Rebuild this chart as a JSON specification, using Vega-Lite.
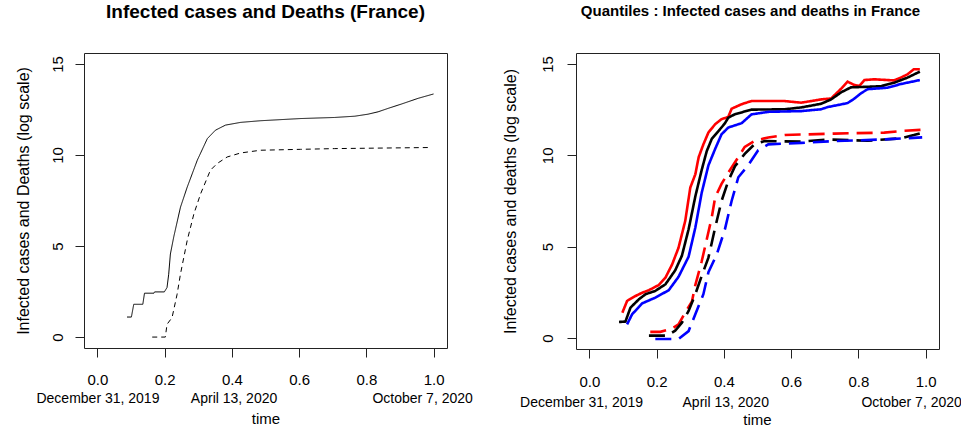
{
  "$schema": "https://vega.github.io/schema/vega-lite/v6.json",
  "background": "white",
  "padding": {"left": 14, "top": 2, "right": 0, "bottom": 0},
  "spacing": 28,
  "resolve": {"scale": {"strokeDash": "independent", "color": "independent"}},
  "config": {
    "font": "Liberation Sans",
    "view": {"stroke": "#222222", "strokeWidth": 1},
    "axis": {"grid": false, "labelColor": "black", "titleColor": "black", "tickColor": "#222222", "labelFont": "Liberation Sans", "titleFont": "Liberation Sans", "titleFontWeight": "normal"},
    "title": {"font": "Liberation Sans", "color": "black", "fontWeight": "bold", "anchor": "middle"}
  },
  "datasets": {
    "left": [
      {"t": 0.088, "v": 1.10, "series": "cases"},
      {"t": 0.101, "v": 1.10, "series": "cases"},
      {"t": 0.108, "v": 1.80, "series": "cases"},
      {"t": 0.135, "v": 1.80, "series": "cases"},
      {"t": 0.140, "v": 2.41, "series": "cases"},
      {"t": 0.168, "v": 2.41, "series": "cases"},
      {"t": 0.170, "v": 2.48, "series": "cases"},
      {"t": 0.199, "v": 2.48, "series": "cases"},
      {"t": 0.207, "v": 2.72, "series": "cases"},
      {"t": 0.212, "v": 3.45, "series": "cases"},
      {"t": 0.217, "v": 4.56, "series": "cases"},
      {"t": 0.227, "v": 5.50, "series": "cases"},
      {"t": 0.247, "v": 7.13, "series": "cases"},
      {"t": 0.267, "v": 8.23, "series": "cases"},
      {"t": 0.297, "v": 9.71, "series": "cases"},
      {"t": 0.327, "v": 10.90, "series": "cases"},
      {"t": 0.351, "v": 11.36, "series": "cases"},
      {"t": 0.381, "v": 11.64, "series": "cases"},
      {"t": 0.426, "v": 11.79, "series": "cases"},
      {"t": 0.485, "v": 11.88, "series": "cases"},
      {"t": 0.604, "v": 12.00, "series": "cases"},
      {"t": 0.706, "v": 12.06, "series": "cases"},
      {"t": 0.766, "v": 12.13, "series": "cases"},
      {"t": 0.805, "v": 12.24, "series": "cases"},
      {"t": 0.835, "v": 12.37, "series": "cases"},
      {"t": 0.865, "v": 12.56, "series": "cases"},
      {"t": 0.905, "v": 12.80, "series": "cases"},
      {"t": 0.954, "v": 13.11, "series": "cases"},
      {"t": 1.000, "v": 13.35, "series": "cases"},
      {"t": 0.163, "v": 0.00, "series": "deaths"},
      {"t": 0.202, "v": 0.00, "series": "deaths"},
      {"t": 0.207, "v": 0.70, "series": "deaths"},
      {"t": 0.222, "v": 1.07, "series": "deaths"},
      {"t": 0.237, "v": 2.35, "series": "deaths"},
      {"t": 0.247, "v": 3.46, "series": "deaths"},
      {"t": 0.267, "v": 5.30, "series": "deaths"},
      {"t": 0.287, "v": 6.77, "series": "deaths"},
      {"t": 0.307, "v": 7.87, "series": "deaths"},
      {"t": 0.336, "v": 9.16, "series": "deaths"},
      {"t": 0.356, "v": 9.53, "series": "deaths"},
      {"t": 0.386, "v": 9.89, "series": "deaths"},
      {"t": 0.426, "v": 10.11, "series": "deaths"},
      {"t": 0.485, "v": 10.26, "series": "deaths"},
      {"t": 0.604, "v": 10.31, "series": "deaths"},
      {"t": 0.706, "v": 10.35, "series": "deaths"},
      {"t": 0.990, "v": 10.41, "series": "deaths"}
    ],
    "right": [
      {"t": 0.098, "v": 1.39, "q": "upper", "k": "cases"},
      {"t": 0.112, "v": 2.03, "q": "upper", "k": "cases"},
      {"t": 0.137, "v": 2.30, "q": "upper", "k": "cases"},
      {"t": 0.157, "v": 2.48, "q": "upper", "k": "cases"},
      {"t": 0.177, "v": 2.62, "q": "upper", "k": "cases"},
      {"t": 0.206, "v": 2.90, "q": "upper", "k": "cases"},
      {"t": 0.226, "v": 3.30, "q": "upper", "k": "cases"},
      {"t": 0.246, "v": 4.03, "q": "upper", "k": "cases"},
      {"t": 0.265, "v": 4.94, "q": "upper", "k": "cases"},
      {"t": 0.285, "v": 6.41, "q": "upper", "k": "cases"},
      {"t": 0.300, "v": 8.23, "q": "upper", "k": "cases"},
      {"t": 0.315, "v": 8.96, "q": "upper", "k": "cases"},
      {"t": 0.325, "v": 9.90, "q": "upper", "k": "cases"},
      {"t": 0.339, "v": 10.60, "q": "upper", "k": "cases"},
      {"t": 0.354, "v": 11.25, "q": "upper", "k": "cases"},
      {"t": 0.374, "v": 11.70, "q": "upper", "k": "cases"},
      {"t": 0.393, "v": 11.98, "q": "upper", "k": "cases"},
      {"t": 0.413, "v": 12.10, "q": "upper", "k": "cases"},
      {"t": 0.423, "v": 12.55, "q": "upper", "k": "cases"},
      {"t": 0.453, "v": 12.80, "q": "upper", "k": "cases"},
      {"t": 0.482, "v": 12.97, "q": "upper", "k": "cases"},
      {"t": 0.581, "v": 12.97, "q": "upper", "k": "cases"},
      {"t": 0.630, "v": 12.88, "q": "upper", "k": "cases"},
      {"t": 0.689, "v": 13.06, "q": "upper", "k": "cases"},
      {"t": 0.719, "v": 13.11, "q": "upper", "k": "cases"},
      {"t": 0.749, "v": 13.65, "q": "upper", "k": "cases"},
      {"t": 0.768, "v": 14.03, "q": "upper", "k": "cases"},
      {"t": 0.788, "v": 13.85, "q": "upper", "k": "cases"},
      {"t": 0.803, "v": 13.80, "q": "upper", "k": "cases"},
      {"t": 0.818, "v": 14.12, "q": "upper", "k": "cases"},
      {"t": 0.847, "v": 14.16, "q": "upper", "k": "cases"},
      {"t": 0.906, "v": 14.10, "q": "upper", "k": "cases"},
      {"t": 0.926, "v": 14.25, "q": "upper", "k": "cases"},
      {"t": 0.946, "v": 14.43, "q": "upper", "k": "cases"},
      {"t": 0.965, "v": 14.71, "q": "upper", "k": "cases"},
      {"t": 0.983, "v": 14.71, "q": "upper", "k": "cases"},
      {"t": 0.088, "v": 0.88, "q": "median", "k": "cases"},
      {"t": 0.107, "v": 0.90, "q": "median", "k": "cases"},
      {"t": 0.122, "v": 1.66, "q": "median", "k": "cases"},
      {"t": 0.147, "v": 2.12, "q": "median", "k": "cases"},
      {"t": 0.167, "v": 2.40, "q": "median", "k": "cases"},
      {"t": 0.196, "v": 2.58, "q": "median", "k": "cases"},
      {"t": 0.226, "v": 2.94, "q": "median", "k": "cases"},
      {"t": 0.255, "v": 3.70, "q": "median", "k": "cases"},
      {"t": 0.275, "v": 4.50, "q": "median", "k": "cases"},
      {"t": 0.295, "v": 5.95, "q": "median", "k": "cases"},
      {"t": 0.315, "v": 7.75, "q": "median", "k": "cases"},
      {"t": 0.334, "v": 9.20, "q": "median", "k": "cases"},
      {"t": 0.349, "v": 10.23, "q": "median", "k": "cases"},
      {"t": 0.364, "v": 10.90, "q": "median", "k": "cases"},
      {"t": 0.384, "v": 11.33, "q": "median", "k": "cases"},
      {"t": 0.403, "v": 11.75, "q": "median", "k": "cases"},
      {"t": 0.413, "v": 12.06, "q": "median", "k": "cases"},
      {"t": 0.433, "v": 12.25, "q": "median", "k": "cases"},
      {"t": 0.482, "v": 12.50, "q": "median", "k": "cases"},
      {"t": 0.581, "v": 12.52, "q": "median", "k": "cases"},
      {"t": 0.630, "v": 12.62, "q": "median", "k": "cases"},
      {"t": 0.689, "v": 12.82, "q": "median", "k": "cases"},
      {"t": 0.719, "v": 13.06, "q": "median", "k": "cases"},
      {"t": 0.749, "v": 13.45, "q": "median", "k": "cases"},
      {"t": 0.778, "v": 13.72, "q": "median", "k": "cases"},
      {"t": 0.808, "v": 13.74, "q": "median", "k": "cases"},
      {"t": 0.867, "v": 13.78, "q": "median", "k": "cases"},
      {"t": 0.906, "v": 13.97, "q": "median", "k": "cases"},
      {"t": 0.946, "v": 14.25, "q": "median", "k": "cases"},
      {"t": 0.983, "v": 14.58, "q": "median", "k": "cases"},
      {"t": 0.112, "v": 0.75, "q": "lower", "k": "cases"},
      {"t": 0.127, "v": 1.30, "q": "lower", "k": "cases"},
      {"t": 0.157, "v": 1.90, "q": "lower", "k": "cases"},
      {"t": 0.196, "v": 2.21, "q": "lower", "k": "cases"},
      {"t": 0.236, "v": 2.62, "q": "lower", "k": "cases"},
      {"t": 0.265, "v": 3.35, "q": "lower", "k": "cases"},
      {"t": 0.295, "v": 4.45, "q": "lower", "k": "cases"},
      {"t": 0.315, "v": 6.04, "q": "lower", "k": "cases"},
      {"t": 0.334, "v": 7.95, "q": "lower", "k": "cases"},
      {"t": 0.354, "v": 9.45, "q": "lower", "k": "cases"},
      {"t": 0.374, "v": 10.35, "q": "lower", "k": "cases"},
      {"t": 0.393, "v": 11.15, "q": "lower", "k": "cases"},
      {"t": 0.413, "v": 11.52, "q": "lower", "k": "cases"},
      {"t": 0.453, "v": 11.76, "q": "lower", "k": "cases"},
      {"t": 0.482, "v": 12.24, "q": "lower", "k": "cases"},
      {"t": 0.532, "v": 12.38, "q": "lower", "k": "cases"},
      {"t": 0.630, "v": 12.42, "q": "lower", "k": "cases"},
      {"t": 0.689, "v": 12.52, "q": "lower", "k": "cases"},
      {"t": 0.709, "v": 12.64, "q": "lower", "k": "cases"},
      {"t": 0.768, "v": 12.86, "q": "lower", "k": "cases"},
      {"t": 0.788, "v": 13.10, "q": "lower", "k": "cases"},
      {"t": 0.808, "v": 13.40, "q": "lower", "k": "cases"},
      {"t": 0.828, "v": 13.62, "q": "lower", "k": "cases"},
      {"t": 0.887, "v": 13.70, "q": "lower", "k": "cases"},
      {"t": 0.926, "v": 13.90, "q": "lower", "k": "cases"},
      {"t": 0.983, "v": 14.12, "q": "lower", "k": "cases"},
      {"t": 0.181, "v": 0.34, "q": "upper", "k": "deaths"},
      {"t": 0.211, "v": 0.34, "q": "upper", "k": "deaths"},
      {"t": 0.246, "v": 0.52, "q": "upper", "k": "deaths"},
      {"t": 0.265, "v": 0.75, "q": "upper", "k": "deaths"},
      {"t": 0.285, "v": 1.40, "q": "upper", "k": "deaths"},
      {"t": 0.305, "v": 2.00, "q": "upper", "k": "deaths"},
      {"t": 0.315, "v": 2.90, "q": "upper", "k": "deaths"},
      {"t": 0.334, "v": 4.20, "q": "upper", "k": "deaths"},
      {"t": 0.354, "v": 5.80, "q": "upper", "k": "deaths"},
      {"t": 0.364, "v": 6.61, "q": "upper", "k": "deaths"},
      {"t": 0.374, "v": 7.70, "q": "upper", "k": "deaths"},
      {"t": 0.393, "v": 8.44, "q": "upper", "k": "deaths"},
      {"t": 0.413, "v": 9.05, "q": "upper", "k": "deaths"},
      {"t": 0.443, "v": 9.90, "q": "upper", "k": "deaths"},
      {"t": 0.462, "v": 10.46, "q": "upper", "k": "deaths"},
      {"t": 0.492, "v": 10.80, "q": "upper", "k": "deaths"},
      {"t": 0.532, "v": 10.98, "q": "upper", "k": "deaths"},
      {"t": 0.581, "v": 11.11, "q": "upper", "k": "deaths"},
      {"t": 0.729, "v": 11.19, "q": "upper", "k": "deaths"},
      {"t": 0.877, "v": 11.24, "q": "upper", "k": "deaths"},
      {"t": 0.926, "v": 11.33, "q": "upper", "k": "deaths"},
      {"t": 0.990, "v": 11.40, "q": "upper", "k": "deaths"},
      {"t": 0.177, "v": 0.13, "q": "median", "k": "deaths"},
      {"t": 0.231, "v": 0.13, "q": "median", "k": "deaths"},
      {"t": 0.255, "v": 0.40, "q": "median", "k": "deaths"},
      {"t": 0.275, "v": 0.84, "q": "median", "k": "deaths"},
      {"t": 0.295, "v": 1.48, "q": "median", "k": "deaths"},
      {"t": 0.315, "v": 2.40, "q": "median", "k": "deaths"},
      {"t": 0.334, "v": 3.40, "q": "median", "k": "deaths"},
      {"t": 0.354, "v": 4.40, "q": "median", "k": "deaths"},
      {"t": 0.374, "v": 6.04, "q": "median", "k": "deaths"},
      {"t": 0.393, "v": 7.50, "q": "median", "k": "deaths"},
      {"t": 0.413, "v": 8.60, "q": "median", "k": "deaths"},
      {"t": 0.433, "v": 9.40, "q": "median", "k": "deaths"},
      {"t": 0.462, "v": 10.08, "q": "median", "k": "deaths"},
      {"t": 0.492, "v": 10.62, "q": "median", "k": "deaths"},
      {"t": 0.522, "v": 10.78, "q": "median", "k": "deaths"},
      {"t": 0.630, "v": 10.75, "q": "median", "k": "deaths"},
      {"t": 0.709, "v": 10.87, "q": "median", "k": "deaths"},
      {"t": 0.828, "v": 10.80, "q": "median", "k": "deaths"},
      {"t": 0.926, "v": 10.93, "q": "median", "k": "deaths"},
      {"t": 0.965, "v": 11.11, "q": "median", "k": "deaths"},
      {"t": 1.000, "v": 11.29, "q": "median", "k": "deaths"},
      {"t": 0.196, "v": -0.05, "q": "lower", "k": "deaths"},
      {"t": 0.265, "v": -0.05, "q": "lower", "k": "deaths"},
      {"t": 0.295, "v": 0.38, "q": "lower", "k": "deaths"},
      {"t": 0.315, "v": 1.30, "q": "lower", "k": "deaths"},
      {"t": 0.339, "v": 2.40, "q": "lower", "k": "deaths"},
      {"t": 0.354, "v": 3.60, "q": "lower", "k": "deaths"},
      {"t": 0.379, "v": 4.58, "q": "lower", "k": "deaths"},
      {"t": 0.403, "v": 5.95, "q": "lower", "k": "deaths"},
      {"t": 0.423, "v": 7.50, "q": "lower", "k": "deaths"},
      {"t": 0.443, "v": 8.80, "q": "lower", "k": "deaths"},
      {"t": 0.472, "v": 9.45, "q": "lower", "k": "deaths"},
      {"t": 0.502, "v": 10.28, "q": "lower", "k": "deaths"},
      {"t": 0.532, "v": 10.60, "q": "lower", "k": "deaths"},
      {"t": 0.630, "v": 10.68, "q": "lower", "k": "deaths"},
      {"t": 0.729, "v": 10.78, "q": "lower", "k": "deaths"},
      {"t": 0.877, "v": 10.87, "q": "lower", "k": "deaths"},
      {"t": 0.990, "v": 10.98, "q": "lower", "k": "deaths"}
    ]
  },
  "hconcat": [
    {
      "width": 363,
      "height": 295,
      "title": {"text": "Infected cases and Deaths (France)", "fontSize": 19, "offset": 31},
      "data": {"name": "left"},
      "layer": [
        {
          "mark": {"type": "line", "strokeWidth": 1, "color": "black"},
          "encoding": {
            "x": {"field": "t", "type": "quantitative",
              "scale": {"domain": [-0.04, 1.04], "nice": false, "zero": false},
              "axis": {"orient": "bottom", "values": [0, 0.2, 0.4, 0.6, 0.8, 1], "format": ".1f", "title": null, "domain": false, "tickSize": 9, "labelFontSize": 15, "labelPadding": 15, "labelFlush": false, "labelOverlap": false}},
            "y": {"field": "v", "type": "quantitative",
              "scale": {"domain": [-0.6, 15.6], "nice": false, "zero": false},
              "axis": {"values": [0, 5, 10, 15], "domain": false, "tickSize": 9, "labelFontSize": 15, "labelAngle": -90, "labelAlign": "center", "labelBaseline": "middle", "labelPadding": 18, "labelFlush": false, "labelOverlap": false,
                "title": "Infected cases and Deaths (log scale)", "titleFontSize": 16, "titleAngle": -90, "titleAlign": "center", "titleBaseline": "middle", "titleX": -61, "titleY": 147.5}},
            "strokeDash": {"field": "series", "type": "nominal", "scale": {"domain": ["cases", "deaths"], "range": [[1, 0], [5, 4]]}, "legend": null}
          }
        },
        {
          "mark": {"type": "point", "opacity": 0, "size": 0},
          "encoding": {
            "x": {"field": "t", "type": "quantitative",
              "axis": {"orient": "bottom", "values": [0, 0.405, 0.966], "labelExpr": "datum.value < 0.2 ? 'December 31, 2019' : datum.value < 0.7 ? 'April 13, 2020' : 'October 7, 2020'", "domain": false, "ticks": false, "tickSize": 0, "labelFontSize": 14, "labelBaseline": "middle", "labelPadding": 50, "labelFlush": false, "labelOverlap": false, "labelBound": false,
                "title": "time", "titleFontSize": 15, "titleBaseline": "alphabetic", "titleAlign": "center", "titleX": 181.5, "titleY": 75}}
          }
        }
      ],
      "resolve": {"axis": {"x": "independent"}}
    },
    {
      "width": 363,
      "height": 296,
      "title": {"text": "Quantiles : Infected cases and deaths in France", "fontSize": 15, "offset": 34, "dx": -7},
      "data": {"name": "right"},
      "layer": [
        {
          "mark": {"type": "line", "strokeWidth": 2.6},
          "encoding": {
            "x": {"field": "t", "type": "quantitative",
              "scale": {"domain": [-0.04, 1.04], "nice": false, "zero": false},
              "axis": {"orient": "bottom", "values": [0, 0.2, 0.4, 0.6, 0.8, 1], "format": ".1f", "title": null, "domain": false, "tickSize": 9, "labelFontSize": 15, "labelPadding": 16, "labelFlush": false, "labelOverlap": false}},
            "y": {"field": "v", "type": "quantitative",
              "scale": {"domain": [-0.6, 15.6], "nice": false, "zero": false},
              "axis": {"values": [0, 5, 10, 15], "domain": false, "tickSize": 9, "labelFontSize": 15, "labelAngle": -90, "labelAlign": "center", "labelBaseline": "middle", "labelPadding": 20, "labelFlush": false, "labelOverlap": false,
                "title": "Infected cases and deaths (log scale)", "titleFontSize": 16, "titleAngle": -90, "titleAlign": "center", "titleBaseline": "middle", "titleX": -66, "titleY": 148}},
            "color": {"field": "q", "type": "nominal", "scale": {"domain": ["upper", "median", "lower"], "range": ["#ff0000", "#000000", "#0000ff"]}, "legend": null},
            "strokeDash": {"field": "k", "type": "nominal", "scale": {"domain": ["cases", "deaths"], "range": [[1, 0], [16, 8]]}, "legend": null}
          }
        },
        {
          "mark": {"type": "point", "opacity": 0, "size": 0},
          "encoding": {
            "x": {"field": "t", "type": "quantitative",
              "axis": {"orient": "bottom", "values": [-0.025, 0.404, 0.957], "labelExpr": "datum.value < 0.2 ? 'December 31, 2019' : datum.value < 0.7 ? 'April 13, 2020' : 'October 7, 2020'", "domain": false, "ticks": false, "tickSize": 0, "labelFontSize": 14, "labelBaseline": "middle", "labelPadding": 53, "labelFlush": false, "labelOverlap": false, "labelBound": false,
                "title": "time", "titleFontSize": 15, "titleBaseline": "alphabetic", "titleAlign": "center", "titleX": 181, "titleY": 75}}
          }
        }
      ],
      "resolve": {"axis": {"x": "independent"}}
    }
  ]
}
